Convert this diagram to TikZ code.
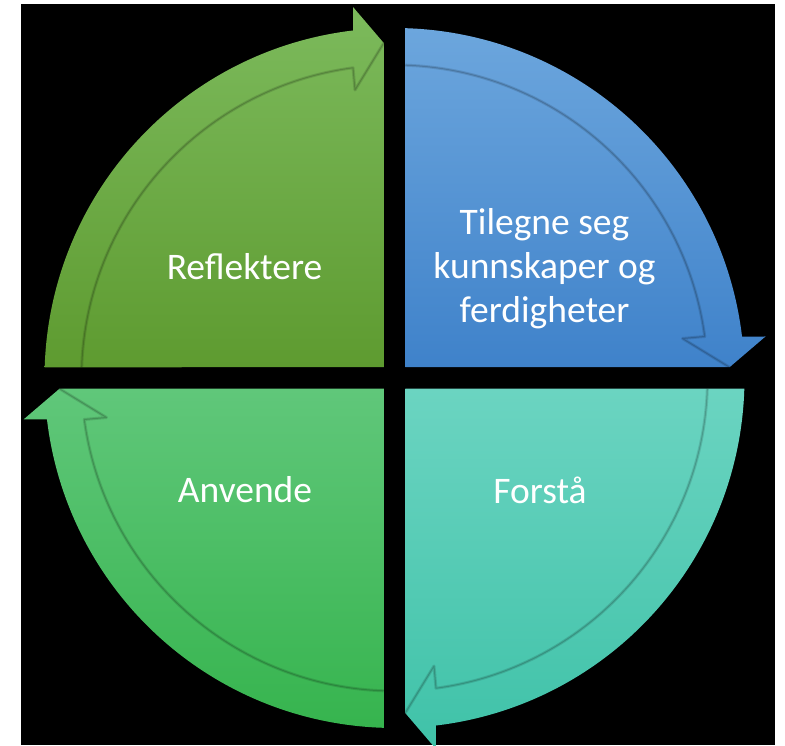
\documentclass[tikz,border=0pt]{standalone}
\usepackage{fontspec}
\setmainfont{Carlito}
\definecolor{tlTop}{HTML}{7CBA5C}
\definecolor{tlBot}{HTML}{5E9B30}
\definecolor{trTop}{HTML}{6CA6DD}
\definecolor{trBot}{HTML}{3F82CA}
\definecolor{brTop}{HTML}{6BD4C1}
\definecolor{brBot}{HTML}{3FC2A8}
\definecolor{blTop}{HTML}{60C77A}
\definecolor{blBot}{HTML}{36B44E}
\tikzset{
  seam/.style={draw=black, draw opacity=0.12, line width=3pt, line join=round},
  seamcore/.style={draw=black, draw opacity=0.16, line width=1pt, line join=round},
  label/.style={text=white, align=center, font=\fontsize{37.5}{44}\selectfont}
}
\begin{document}
\begin{tikzpicture}[x=1pt,y=1pt]
\useasboundingbox (0,0) rectangle (785,745);
\fill[white] (0,0) rectangle (785,745);
\fill[black] (21,0) rectangle (775,741);
\clip (21,0) rectangle (775,741);
\begin{scope}[shift={(394.5,367)}]
  % top-left quadrant (Reflektere)
  \shade[top color=tlTop, bottom color=tlBot]
    (-10.75,10.75) -- (178.24:350) arc[start angle=178.24, end angle=96.8, radius=350]
    -- (-41.5,371) -- (-10.75,335) -- cycle;
  \path[seam] (178.03:313) arc[start angle=178.03, end angle=97.62, radius=313] -- (-39.5,288) -- (-10.75,335);
  \path[seamcore] (178.03:313) arc[start angle=178.03, end angle=97.62, radius=313] -- (-39.5,288) -- (-10.75,335);
  % top-right quadrant
  \shade[top color=trTop, bottom color=trBot]
    (10.75,10.75) -- (88.24:350) arc[start angle=88.24, end angle=6.8, radius=350]
    -- (371,41.5) -- (335,10.75) -- cycle;
  \path[seam] (88.03:313) arc[start angle=88.03, end angle=7.62, radius=313] -- (288,39.5) -- (335,10.75);
  \path[seamcore] (88.03:313) arc[start angle=88.03, end angle=7.62, radius=313] -- (288,39.5) -- (335,10.75);
  % bottom-right quadrant
  \shade[top color=brTop, bottom color=brBot]
    (10.75,-10.75) -- (-1.76:350) arc[start angle=-1.76, end angle=-83.2, radius=350]
    -- (41.5,-371) -- (10.75,-335) -- cycle;
  \path[seam] (-1.97:313) arc[start angle=-1.97, end angle=-82.38, radius=313] -- (39.5,-288) -- (10.75,-335);
  \path[seamcore] (-1.97:313) arc[start angle=-1.97, end angle=-82.38, radius=313] -- (39.5,-288) -- (10.75,-335);
  % bottom-left quadrant
  \shade[top color=blTop, bottom color=blBot]
    (-10.75,-10.75) -- (268.24:350) arc[start angle=268.24, end angle=186.8, radius=350]
    -- (-371,-41.5) -- (-335,-10.75) -- cycle;
  \path[seam] (268.03:313) arc[start angle=268.03, end angle=187.62, radius=313] -- (-288,-39.5) -- (-335,-10.75);
  \path[seamcore] (268.03:313) arc[start angle=268.03, end angle=187.62, radius=313] -- (-288,-39.5) -- (-335,-10.75);
  % labels
  \node[label] (refl) at (-150,111) {Reflektere};
  \node[label] (tile) at (150,109) {Tilegne seg\\kunnskaper og\\ferdigheter};
  \node[label] (fors) at (145.5,-112) {Forstå};
  \node[label] (anv) at (-149.5,-112) {Anvende};
\end{scope}
\end{tikzpicture}
\end{document}
